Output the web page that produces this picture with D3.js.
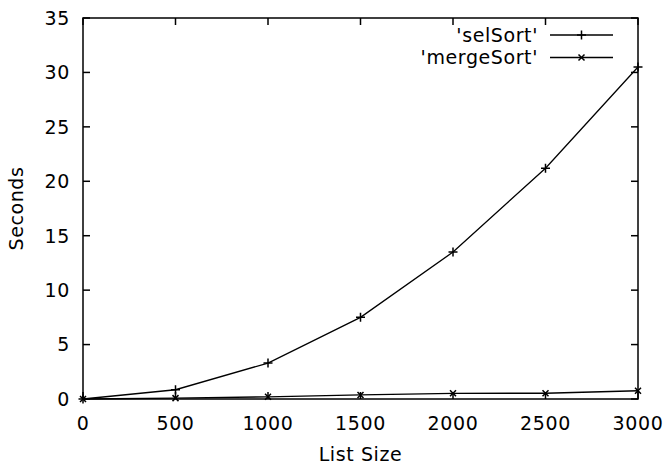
<!DOCTYPE html>
<html>
<head>
<meta charset="utf-8">
<script src="https://cdn.jsdelivr.net/npm/d3@7"></script>
<style>
  body { margin: 0; background: #fff; }
  text { font-family: "DejaVu Sans", sans-serif; fill: #000; letter-spacing: 0.6px; }
</style>
</head>
<body>
<div id="chart"></div>
<script>
(function () {

  // data
  const sizes = [0, 500, 1000, 1500, 2000, 2500, 3000];
  const selSort = [0, 0.85, 3.3, 7.5, 13.5, 21.2, 30.5];
  const mergeSort = [0, 0.08, 0.2, 0.37, 0.52, 0.53, 0.76];
  const xTicks = [0, 500, 1000, 1500, 2000, 2500, 3000];
  const yTicks = [0, 5, 10, 15, 20, 25, 30, 35];

  const W = 665, H = 467;
  const margin = { top: 18, right: 27, bottom: 68, left: 83 },
        width = W - margin.left - margin.right,
        height = H - margin.top - margin.bottom;

  const svg = d3.select("#chart")
    .append("svg")
    .attr("width", W)
    .attr("height", H);

  const g = svg.append("g")
    .attr("transform", `translate(${margin.left},${margin.top})`);

  const x = d3.scaleLinear().domain([0, 3000]).range([0, width]);
  const y = d3.scaleLinear().domain([0, 35]).range([height, 0]);

  const tick = 7;
  const fs = "19px";

  // border box
  g.append("rect")
    .attr("width", width)
    .attr("height", height)
    .attr("fill", "none")
    .attr("stroke", "#000")
    .attr("stroke-width", 1.5);

  // inward ticks, mirrored on all sides
  xTicks.forEach(t => {
    g.append("line").attr("x1", x(t)).attr("x2", x(t))
      .attr("y1", height).attr("y2", height - tick)
      .attr("stroke", "#000").attr("stroke-width", 1.5);
    g.append("line").attr("x1", x(t)).attr("x2", x(t))
      .attr("y1", 0).attr("y2", tick)
      .attr("stroke", "#000").attr("stroke-width", 1.5);
    g.append("text")
      .attr("x", x(t)).attr("y", height + 31)
      .attr("text-anchor", "middle")
      .style("font-size", fs)
      .text(t);
  });

  yTicks.forEach(t => {
    g.append("line").attr("x1", 0).attr("x2", tick)
      .attr("y1", y(t)).attr("y2", y(t))
      .attr("stroke", "#000").attr("stroke-width", 1.5);
    g.append("line").attr("x1", width).attr("x2", width - tick)
      .attr("y1", y(t)).attr("y2", y(t))
      .attr("stroke", "#000").attr("stroke-width", 1.5);
    g.append("text")
      .attr("x", -13).attr("y", y(t))
      .attr("dy", "0.36em")
      .attr("text-anchor", "end")
      .style("font-size", fs)
      .text(t);
  });

  // lines
  const line = d3.line()
    .x((d, i) => x(sizes[i]))
    .y(d => y(d));

  const series = [
    { name: "'selSort'", values: selSort, marker: "plus" },
    { name: "'mergeSort'", values: mergeSort, marker: "cross" }
  ];

  function marker(sel, type, cx, cy) {
    const s = type === "plus" ? 4.5 : 3;
    const p = type === "plus"
      ? `M${cx - s},${cy}H${cx + s}M${cx},${cy - s}V${cy + s}`
      : `M${cx - s},${cy - s}L${cx + s},${cy + s}M${cx - s},${cy + s}L${cx + s},${cy - s}`;
    sel.append("path").attr("d", p)
      .attr("stroke", "#000").attr("stroke-width", 1.5).attr("fill", "none");
  }

  series.forEach((s, k) => {
    g.append("path")
      .datum(s.values)
      .attr("d", line)
      .attr("fill", "none")
      .attr("stroke", "#000")
      .attr("stroke-width", 1.3);

    s.values.forEach((v, i) => marker(g, s.marker, x(sizes[i]), y(v)));

    // legend
    const ly = 17 + k * 22.5;
    g.append("text")
      .attr("x", 455).attr("y", ly)
      .attr("dy", "0.36em")
      .attr("text-anchor", "end")
      .style("font-size", fs)
      .text(s.name);
    g.append("line")
      .attr("x1", 467).attr("x2", 530)
      .attr("y1", ly).attr("y2", ly)
      .attr("stroke", "#000").attr("stroke-width", 1.3);
    marker(g, s.marker, 498.5, ly);
  });

  // axis labels
  g.append("text")
    .attr("x", width / 2)
    .attr("y", height + 62)
    .attr("text-anchor", "middle")
    .style("font-size", fs)
    .text("List Size");

  g.append("text")
    .attr("transform", "rotate(-90)")
    .attr("x", -height / 2)
    .attr("y", -60)
    .attr("text-anchor", "middle")
    .style("font-size", fs)
    .text("Seconds");

})();
</script>
</body>
</html>
